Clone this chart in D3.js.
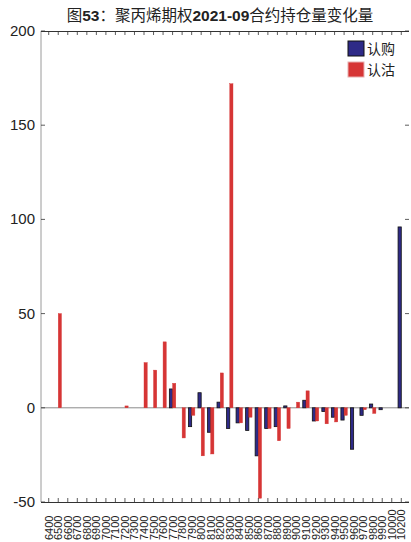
<!DOCTYPE html>
<html>
<head>
<meta charset="utf-8">
<script src="https://cdn.jsdelivr.net/npm/d3@7"></script>
<style>
  html, body { margin: 0; padding: 0; background: #fff; }
  svg { display: block; }
</style>
</head>
<body>
<svg id="chart" width="411" height="542"></svg>
<script>
// Strike prices (10100 has no listing)
const strikes = ["6400","6500","6600","6700","6800","6900","7000","7100","7200","7300",
  "7400","7500","7600","7700","7800","7900","8000","8100","8200","8300",
  "8400","8500","8600","8700","8800","8900","9000","9100","9200","9300",
  "9400","9500","9600","9700","9800","9900","10000","10200"];
// Change in open interest, call options (认购)
const callChange = [0,0,0,0,0,0,0,0,0,0,0,0,0,10,0,-10,8,-13,3,-11,
  -8,-12,-25.5,-11,-10,1,0,4,-7,-2,-5,-6.5,-22,-4,2,-1,0,96];
// Change in open interest, put options (认沽)
const putChange = [0,50,0,0,0,0,0,0,1,0,24,20,35,13,-16,-4,-25.5,-24.5,18.5,172,
  -8,-5,-48,-11,-17.5,-11,3,9,-7,-8.5,-7.5,-4,0,-1,-3,0,0,0];
const yTicks = [-50, 0, 50, 100, 150, 200];
const seriesNames = ["认购", "认沽"];
const seriesColors = ["#2E2A87", "#D63535"];

const svg = d3.select("#chart");
const m = { left: 41, right: 409, top: 31, bottom: 502 };

const x = d3.scaleBand().domain(strikes).range([m.left, m.right])
  .paddingInner(0).paddingOuter(0.31);
const y = d3.scaleLinear().domain([-50, 200]).range([m.bottom, m.top]);

const series = [callChange, putChange];
const sub = d3.scaleBand().domain([0, 1]).range([0, x.bandwidth()]).paddingOuter(0.48).paddingInner(0);

// bars
series.forEach((vals, s) => {
  svg.append("g").selectAll("rect").data(vals).join("rect")
    .attr("x", (d, i) => x(strikes[i]) + sub(s))
    .attr("width", sub.bandwidth())
    .attr("y", d => y(Math.max(0, d)))
    .attr("height", d => Math.abs(y(d) - y(0)))
    .attr("fill", seriesColors[s])
    .attr("stroke", s === 0 ? "#111" : seriesColors[s])
    .attr("stroke-width", s === 0 ? 0.8 : 0.4);
});

// zero baseline
svg.append("line")
  .attr("x1", m.left).attr("x2", m.right)
  .attr("y1", y(0)).attr("y2", y(0))
  .attr("stroke", "#8a8a8a").attr("stroke-width", 1).lower();

// box frame
const frame = svg.append("g");
frame.append("line").attr("x1", m.left).attr("x2", m.left).attr("y1", m.top).attr("y2", m.bottom)
  .attr("stroke", "#9a9a9a").attr("stroke-width", 1);
frame.append("line").attr("x1", m.left).attr("x2", m.right).attr("y1", m.top + 0.5).attr("y2", m.top + 0.5)
  .attr("stroke", "#333").attr("stroke-width", 1);
frame.append("line").attr("x1", m.left).attr("x2", m.right).attr("y1", m.bottom + 0.5).attr("y2", m.bottom + 0.5)
  .attr("stroke", "#333").attr("stroke-width", 1);

// inward tick marks on all four sides
const xc = d => x(d) + x.bandwidth() / 2;
frame.selectAll(".tb").data(strikes).join("line")
  .attr("x1", xc).attr("x2", xc).attr("y1", m.bottom).attr("y2", m.bottom - 4)
  .attr("stroke", "#333").attr("stroke-width", 0.8);
frame.selectAll(".tt").data(strikes).join("line")
  .attr("x1", xc).attr("x2", xc).attr("y1", m.top).attr("y2", m.top + 4)
  .attr("stroke", "#333").attr("stroke-width", 0.8);
frame.selectAll(".yl").data(yTicks).join("line")
  .attr("x1", m.left).attr("x2", m.left + 4).attr("y1", d => y(d)).attr("y2", d => y(d))
  .attr("stroke", "#333").attr("stroke-width", 0.8);
frame.selectAll(".yr").data(yTicks).join("line")
  .attr("x1", m.right).attr("x2", m.right - 4).attr("y1", d => y(d)).attr("y2", d => y(d))
  .attr("stroke", "#333").attr("stroke-width", 0.8);

// y tick labels
svg.append("g").selectAll("text").data(yTicks).join("text")
  .attr("x", 35).attr("y", d => y(d) + 5)
  .attr("text-anchor", "end")
  .attr("font-family", "Liberation Sans, Arial, sans-serif")
  .attr("font-size", 15).attr("fill", "#222")
  .text(d => d);

// x tick labels, rotated, reading upward from the bottom edge
svg.append("g").selectAll("text").data(strikes).join("text")
  .attr("transform", d => `translate(${xc(d) + 4},540) rotate(-90)`)
  .attr("text-anchor", "start")
  .attr("font-family", "Liberation Sans, Arial, sans-serif")
  .attr("font-size", 11).attr("fill", "#222")
  .text(d => d);

// title
const title = svg.append("text")
  .attr("x", 220).attr("y", 21).attr("text-anchor", "middle")
  .attr("font-family", "Noto Sans CJK SC, sans-serif")
  .attr("font-size", 15.5).attr("fill", "#222");
[["图", false], ["53", true], ["：聚丙烯期权", false], ["2021-09", true], ["合约持仓量变化量", false]]
  .forEach(([t, b]) => {
    title.append("tspan").text(t)
      .attr("font-weight", b ? "bold" : "normal")
      .attr("font-family", b ? "Liberation Sans, Arial, sans-serif" : "Noto Sans CJK SC, sans-serif");
  });

// legend
const legend = svg.append("g");
seriesNames.forEach((name, i) => {
  legend.append("rect")
    .attr("x", 348).attr("y", 41 + i * 21).attr("width", 16).attr("height", 15)
    .attr("fill", seriesColors[i])
    .attr("stroke", i === 0 ? "#111" : "#e8b0b0").attr("stroke-width", 1);
  legend.append("text")
    .attr("x", 367).attr("y", 54 + i * 21)
    .attr("font-family", "Noto Sans CJK SC, sans-serif")
    .attr("font-size", 14).attr("fill", "#222")
    .text(name);
});
</script>
</body>
</html>
